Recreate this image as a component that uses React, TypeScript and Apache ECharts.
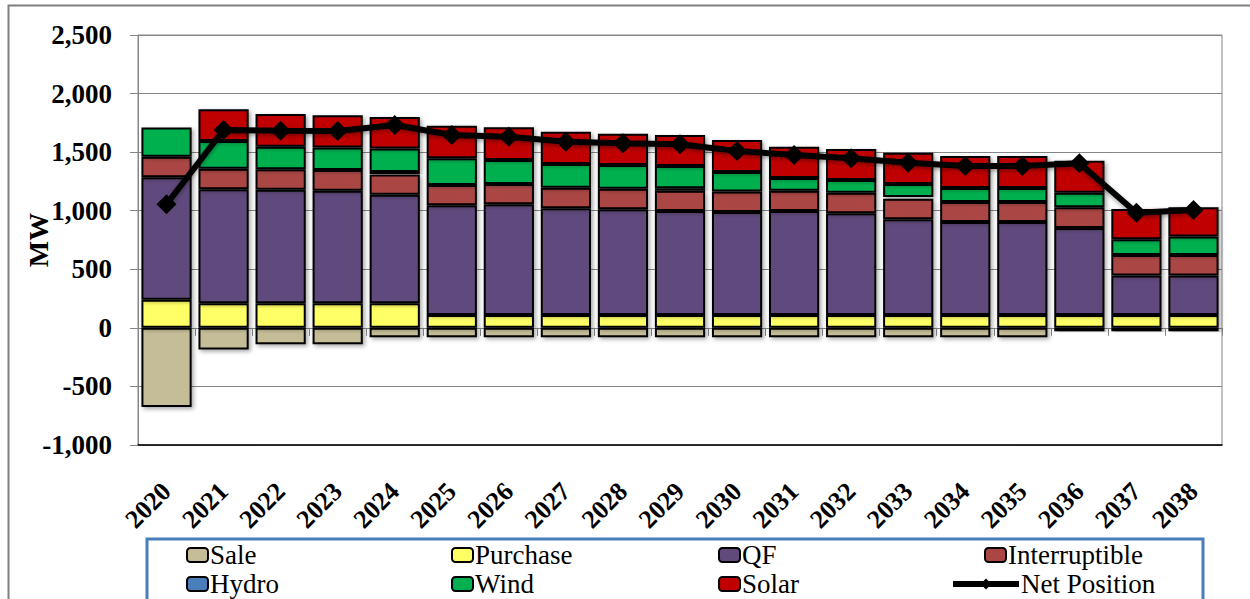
import React, { useEffect, useRef } from "react";
import * as echarts from "echarts";

const years = ["2020","2021","2022","2023","2024","2025","2026","2027","2028","2029","2030","2031","2032","2033","2034","2035","2036","2037","2038"];
const sale = [-675,-185,-140,-140,-80,-80,-80,-80,-80,-80,-80,-80,-80,-80,-80,-80,-30,-30,-30];
const purchase = [240,210,210,210,210,110,110,110,110,110,110,110,110,110,110,110,110,110,110];
const qf = [1046,973,970,960,926,936,945,911,902,888,879,888,868,817,794,794,743,336,336];
const interruptible = [175,176,175,177,174,173,173,176,176,173,174,173,176,176,171,171,177,177,177];
const hydro = [0,0,0,0,20,0,0,0,0,20,0,0,0,15,0,0,0,0,0];
const wind = [250,236,190,193,202,228,205,202,202,191,168,109,108,110,119,119,124,134,156];
const solar = [15,271,280,276,269,278,279,276,267,264,273,267,265,267,273,273,273,258,251];
const netPosition = [1055,1689,1683,1680,1732,1646,1632,1589,1575,1567,1510,1476,1447,1410,1382,1382,1405,983,1007];
const yTicks = { min: -1000, max: 2500, interval: 500 };

const FONT = "Times New Roman, Liberation Serif, serif";

export default function App() {
  const ref = useRef<HTMLDivElement>(null);
  useEffect(() => {
    if (!ref.current) return;
    const chart = echarts.init(ref.current, null, { renderer: "svg" });
    const barStyle = (color: string) => ({
      color,
      borderColor: "#000",
      borderWidth: 2,
      shadowColor: "rgba(0,0,0,0.35)",
      shadowBlur: 4,
      shadowOffsetX: 2,
      shadowOffsetY: 2,
    });
    const mkBar = (name: string, data: number[], color: string) => ({
      name,
      type: "bar",
      stack: "cap",
      data,
      barCategoryGap: "12%",
      itemStyle: barStyle(color),
      emphasis: { disabled: true },
    });
    const legendPos: [string, number, number, number][] = [
      ["Sale", 186, 541, 21],
      ["Purchase", 451, 541, 21],
      ["QF", 718, 541, 21],
      ["Interruptible", 984, 541, 21],
      ["Hydro", 186, 570, 21],
      ["Wind", 451, 570, 21],
      ["Solar", 718, 570, 21],
      ["Net Position", 950, 570, 66],
    ];
    chart.setOption({
      animation: false,
      textStyle: { fontFamily: FONT },
      grid: {
        left: 138, right: 28, top: 35, bottom: 154,
        containLabel: false,
        outerBoundsMode: "none",
        show: true, borderColor: "#868686", borderWidth: 1,
      },
      legend: legendPos.map(([name, left, top, w]) => ({
        data: [name],
        left, top,
        itemWidth: w,
        itemHeight: 14,
        itemGap: 2,
        padding: 0,
        selectedMode: false,
        lineStyle: { width: 6 },
        textStyle: { fontFamily: FONT, fontSize: 27, color: "#000", lineHeight: 28, padding: [0, 0, 0, -3] },
      })),
      xAxis: [
        {
          type: "category",
          data: years,
          position: "bottom",
          axisLine: { show: true, onZero: false, lineStyle: { color: "#000", width: 1.5 } },
          axisTick: { show: false },
          axisLabel: {
            rotate: 45, fontSize: 26, fontWeight: "bold", color: "#000",
            fontFamily: FONT, margin: 42, interval: 0,
          },
        },
        {
          type: "category",
          data: years,
          position: "top",
          axisLine: { show: true, onZero: true, lineStyle: { color: "#868686", width: 1 } },
          axisTick: { show: true, inside: true, length: 8, lineStyle: { color: "#868686" } },
          axisLabel: { show: false },
        },
      ],
      yAxis: {
        type: "value",
        min: yTicks.min, max: yTicks.max, interval: yTicks.interval,
        name: "MW",
        nameLocation: "middle",
        nameRotate: 90,
        nameGap: 86,
        nameMoveOverlap: false,
        nameTextStyle: { fontSize: 28, fontWeight: "bold", color: "#000", fontFamily: FONT },
        axisLine: { show: true, lineStyle: { color: "#868686" } },
        axisTick: { show: true, length: 8, lineStyle: { color: "#868686" } },
        splitLine: { show: true, lineStyle: { color: "#868686", width: 1 } },
        axisLabel: {
          fontSize: 27, fontWeight: "bold", color: "#000", fontFamily: FONT, margin: 26,
          formatter: (v: number) => v.toLocaleString("en-US"),
        },
      },
      series: [
        mkBar("Sale", sale, "#C4BD97"),
        mkBar("Purchase", purchase, "#FFFF66"),
        mkBar("QF", qf, "#604A7B"),
        mkBar("Interruptible", interruptible, "#AA4744"),
        mkBar("Hydro", hydro, "#4A7EBB"),
        mkBar("Wind", wind, "#00B050"),
        mkBar("Solar", solar, "#C00000"),
        {
          name: "Net Position",
          type: "line",
          data: netPosition,
          symbol: "diamond",
          symbolSize: 20,
          z: 10,
          lineStyle: { color: "#000", width: 6, shadowColor: "rgba(0,0,0,0.35)", shadowBlur: 4, shadowOffsetY: 2 },
          itemStyle: { color: "#000" },
          emphasis: { disabled: true },
        },
      ],
      graphic: [
        {
          type: "rect",
          shape: { x: 8.5, y: 5.5, width: 1300, height: 620 },
          style: { fill: "none", stroke: "#7f7f7f", lineWidth: 2 },
          silent: true,
        },
        {
          type: "rect",
          shape: { x: 147, y: 539, width: 1056, height: 80 },
          style: { fill: "none", stroke: "#4A7EBB", lineWidth: 3 },
          silent: true,
        },
      ],
    });
    return () => chart.dispose();
  }, []);
  return <div ref={ref} style={{ width: 1250, height: 599, position: "absolute", left: 0, top: 0 }} />;
}
